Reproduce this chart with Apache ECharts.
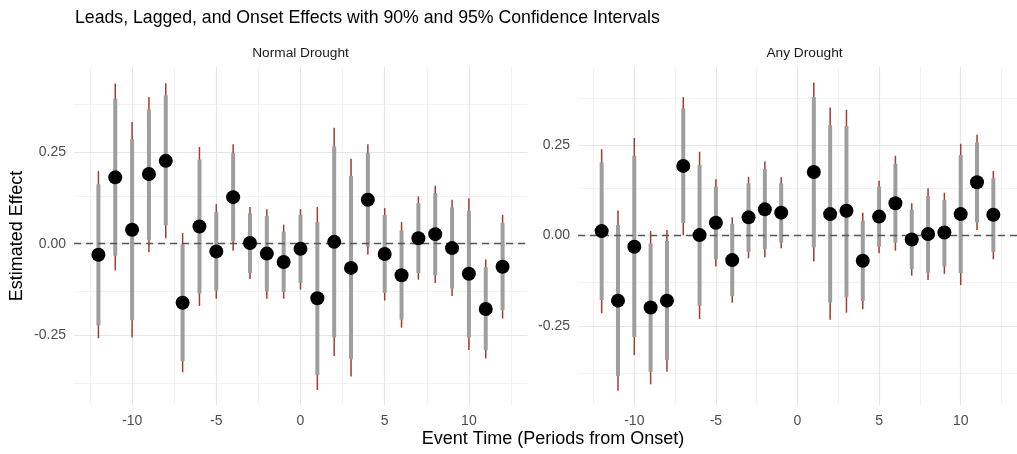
<!DOCTYPE html>
<html>
<head>
<meta charset="utf-8">
<script src="https://cdn.jsdelivr.net/npm/echarts@6/dist/echarts.min.js"></script>
<style>
html,body{margin:0;padding:0;background:#fff;}
#chart{width:1017px;height:454px;}
</style>
</head>
<body>
<div id="chart"></div>
<script>
// ---- Data ----
const chartTitle = "Leads, Lagged, and Onset Effects with 90% and 95% Confidence Intervals";
const panelTitles = ["Normal Drought", "Any Drought"];
const xAxisTitle = "Event Time (Periods from Onset)";
const yAxisTitle = "Estimated Effect";
const xTickValues = [-10, -5, 0, 5, 10];
const yTickValues = [-0.25, 0, 0.25];
const yMajorGrid = [-0.25, 0, 0.25];
const yMinorGrid = [-0.375, -0.125, 0.125, 0.375];
const xMajorGrid = [-10, -5, 0, 5, 10];
const xMinorGrid = [-12.5, -7.5, -2.5, 2.5, 7.5, 12.5];

// Normal Drought
const normalTime = [-12,-11,-10,-9,-8,-7,-6,-5,-4,-3,-2,-1,0,1,2,3,4,5,6,7,8,9,10,11,12];
const normalEst  = [-0.030,0.181,0.038,0.190,0.226,-0.161,0.047,-0.021,0.127,0.002,-0.027,-0.050,-0.014,-0.149,0.005,-0.066,0.120,-0.028,-0.086,0.015,0.026,-0.012,-0.082,-0.178,-0.063];
const normalHi95 = [0.198,0.437,0.332,0.400,0.438,0.029,0.264,0.108,0.271,0.100,0.094,0.052,0.094,0.100,0.316,0.232,0.271,0.097,0.059,0.129,0.158,0.120,0.124,-0.043,0.079];
const normalLo95 = [-0.258,-0.073,-0.256,-0.023,0.015,-0.351,-0.170,-0.150,-0.019,-0.096,-0.150,-0.150,-0.125,-0.399,-0.306,-0.362,-0.030,-0.155,-0.229,-0.098,-0.107,-0.143,-0.290,-0.313,-0.204];
const normalHi90 = [0.162,0.396,0.285,0.366,0.405,-0.002,0.230,0.086,0.248,0.083,0.076,0.033,0.079,0.059,0.266,0.185,0.248,0.078,0.036,0.111,0.138,0.099,0.090,-0.064,0.056];
const normalLo90 = [-0.223,-0.033,-0.209,0.011,0.050,-0.320,-0.136,-0.128,0.006,-0.080,-0.130,-0.132,-0.107,-0.359,-0.256,-0.315,-0.008,-0.134,-0.207,-0.080,-0.086,-0.122,-0.256,-0.291,-0.181];

// Any Drought
const anyTime = [-12,-11,-10,-9,-8,-7,-6,-5,-4,-3,-2,-1,1,2,3,4,5,6,7,8,9,10,11,12];
const anyEst  = [0.012,-0.180,-0.031,-0.199,-0.180,0.192,0.001,0.035,-0.068,0.050,0.072,0.063,0.175,0.059,0.068,-0.070,0.052,0.089,-0.011,0.004,0.008,0.059,0.147,0.057];
const anyHi95 = [0.238,0.069,0.269,0.012,0.015,0.382,0.231,0.155,0.050,0.162,0.204,0.161,0.422,0.353,0.347,0.063,0.151,0.220,0.089,0.130,0.118,0.253,0.278,0.178];
const anyLo95 = [-0.215,-0.429,-0.330,-0.411,-0.376,0.001,-0.231,-0.086,-0.186,-0.063,-0.060,-0.035,-0.072,-0.233,-0.213,-0.204,-0.049,-0.042,-0.111,-0.123,-0.106,-0.137,0.015,-0.066];
const anyHi90 = [0.202,0.029,0.220,-0.022,-0.015,0.351,0.195,0.135,0.032,0.144,0.183,0.144,0.382,0.305,0.302,0.041,0.135,0.198,0.072,0.109,0.098,0.222,0.257,0.158];
const anyLo90 = [-0.178,-0.388,-0.280,-0.376,-0.344,0.034,-0.195,-0.066,-0.167,-0.045,-0.038,-0.020,-0.033,-0.186,-0.169,-0.181,-0.031,-0.020,-0.093,-0.103,-0.086,-0.104,0.036,-0.045];

// ---- Chart ----
const FONT = "'Liberation Sans', Arial, Helvetica, sans-serif";
const panels = [
  {time: normalTime, est: normalEst, lo95: normalLo95, hi95: normalHi95, lo90: normalLo90, hi90: normalHi90, left: 74, ymin: -0.44, ymax: 0.482},
  {time: anyTime, est: anyEst, lo95: anyLo95, hi95: anyHi95, lo90: anyLo90, hi90: anyHi90, left: 578, ymin: -0.468, ymax: 0.465}
];
const GRID_TOP = 67, GRID_H = 338, GRID_W = 453;

const grids = [], xAxes = [], yAxes = [], series = [];
function ciRender(color, width) {
  return function (params, api) {
    const x = api.value(0);
    const p1 = api.coord([x, api.value(1)]);
    const p2 = api.coord([x, api.value(2)]);
    return {type: 'line', shape: {x1: p1[0], y1: p1[1], x2: p2[0], y2: p2[1]},
            style: {stroke: color, lineWidth: width, lineCap: 'butt'}};
  };
}
panels.forEach((p, i) => {
  grids.push({left: p.left, top: GRID_TOP, width: GRID_W, height: GRID_H, containLabel: false});
  xAxes.push({
    type: 'value', gridIndex: i, min: -13.45, max: 13.45,
    axisLine: {show: false}, axisTick: {show: false}, splitLine: {show: false},
    axisLabel: {customValues: xTickValues, color: '#4d4d4d', fontSize: 14, fontFamily: FONT, margin: 9}
  });
  yAxes.push({
    type: 'value', gridIndex: i, min: p.ymin, max: p.ymax,
    axisLine: {show: false}, axisTick: {show: false}, splitLine: {show: false},
    axisLabel: {customValues: yTickValues, color: '#4d4d4d', fontSize: 14, fontFamily: FONT, margin: 8,
      formatter: v => v.toFixed(2)}
  });
  const gridLines = [];
  yMinorGrid.forEach(v => gridLines.push({yAxis: v, lineStyle: {color: '#f2f2f2', width: 1, type: 'solid'}}));
  xMinorGrid.forEach(v => gridLines.push({xAxis: v, lineStyle: {color: '#f2f2f2', width: 1, type: 'solid'}}));
  yMajorGrid.forEach(v => gridLines.push({yAxis: v, lineStyle: {color: '#e6e6e6', width: 1.2, type: 'solid'}}));
  xMajorGrid.forEach(v => gridLines.push({xAxis: v, lineStyle: {color: '#e6e6e6', width: 1.2, type: 'solid'}}));
  series.push({
    type: 'line', xAxisIndex: i, yAxisIndex: i, data: [], z: 1, silent: true,
    markLine: {z: 1, silent: true, symbol: ['none', 'none'], label: {show: false}, animation: false, data: gridLines}
  });
  series.push({
    type: 'custom', xAxisIndex: i, yAxisIndex: i, z: 2, clip: false,
    renderItem: ciRender('#a8392b', 1.5), encode: {x: 0, y: [1, 2]},
    data: p.time.map((t, k) => [t, p.lo95[k], p.hi95[k]])
  });
  series.push({
    type: 'custom', xAxisIndex: i, yAxisIndex: i, z: 3, clip: false,
    renderItem: ciRender('#9e9e9e', 4), encode: {x: 0, y: [1, 2]},
    data: p.time.map((t, k) => [t, p.lo90[k], p.hi90[k]])
  });
  series.push({
    type: 'line', xAxisIndex: i, yAxisIndex: i, data: [], z: 4, silent: true,
    markLine: {z: 4, silent: true, symbol: ['none', 'none'], label: {show: false}, animation: false,
      data: [{yAxis: 0, lineStyle: {color: '#555555', width: 1.4, type: [7, 5]}}]}
  });
  series.push({
    type: 'scatter', xAxisIndex: i, yAxisIndex: i, z: 6, symbolSize: 14,
    itemStyle: {color: '#000000', opacity: 1},
    data: p.time.map((t, k) => [t, p.est[k]])
  });
});

const graphics = [
  {type: 'text', left: 75, top: 9, style: {text: chartTitle, font: '17.7px ' + FONT, fill: '#000'}},
  {type: 'text', x: 74 + GRID_W / 2, y: 53, style: {text: panelTitles[0], font: '13.7px ' + FONT, fill: '#1a1a1a', textAlign: 'center', textVerticalAlign: 'middle'}},
  {type: 'text', x: 578 + GRID_W / 2, y: 53, style: {text: panelTitles[1], font: '13.7px ' + FONT, fill: '#1a1a1a', textAlign: 'center', textVerticalAlign: 'middle'}},
  {type: 'text', x: 553, y: 439, style: {text: xAxisTitle, font: '18px ' + FONT, fill: '#000', textAlign: 'center', textVerticalAlign: 'middle'}},
  {type: 'text', x: 17, y: 236, rotation: Math.PI / 2, style: {text: yAxisTitle, font: '18px ' + FONT, fill: '#000', textAlign: 'center', textVerticalAlign: 'middle'}}
];

const chart = echarts.init(document.getElementById('chart'), null, {renderer: 'canvas'});
chart.setOption({
  animation: false,
  backgroundColor: '#ffffff',
  grid: grids, xAxis: xAxes, yAxis: yAxes, series: series,
  graphic: graphics
});
</script>
</body>
</html>
